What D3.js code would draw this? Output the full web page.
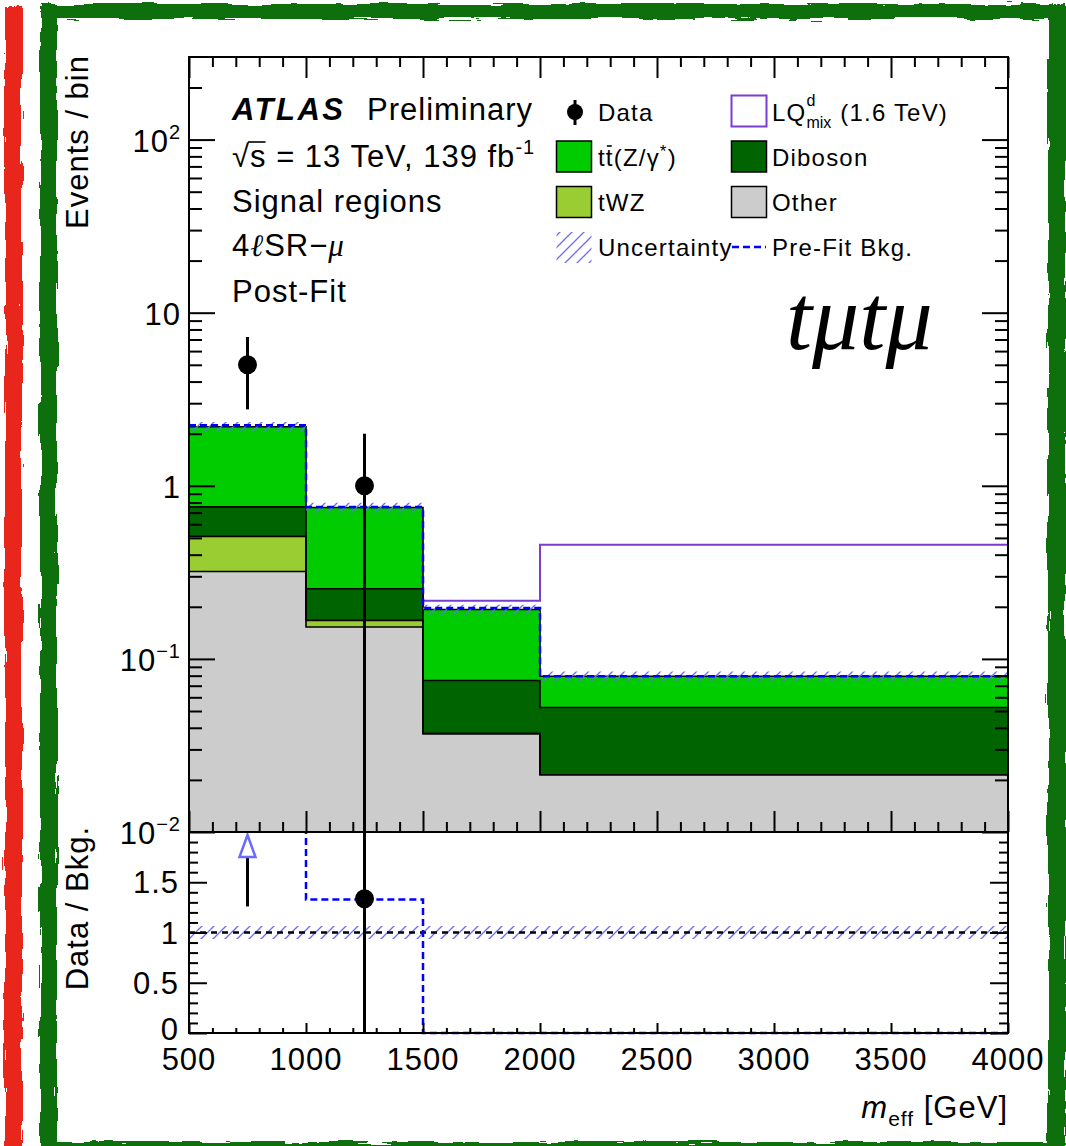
<!DOCTYPE html>
<html>
<head>
<meta charset="utf-8">
<script src="https://cdn.jsdelivr.net/npm/d3@7"></script>
<style>
  html, body { margin: 0; padding: 0; background: #fff; }
  svg { display: block; }
  text { font-family: "Liberation Sans", Arial, Helvetica, sans-serif; fill: #000; }
</style>
</head>
<body>
<svg id="chart" width="1066" height="1146"></svg>
<script>
// ---- binning (m_eff, GeV) ----
const binEdges = [500, 1000, 1500, 2000, 4000];

// ---- post-fit background yields per bin, stacked bottom -> top ----
const otherYields   = [0.32, 0.153, 0.037, 0.0214];
const twzYields     = [0.19, 0.014, 0, 0];
const dibosonYields = [0.245, 0.087, 0.038, 0.031];
const ttzYields     = [1.44, 0.495, 0.118, 0.027];

// ---- pre-fit total background, signal, data ----
const prefitTotal  = [2.24, 0.753, 0.197, 0.0795];
const signalYields = [null, null, 0.217, 0.456];
const dataCounts   = [5, 1, 0, 0];
const bkgRelUnc    = 0.065;

// ---- axis ticks and labels ----
const xTickValues   = [500, 1000, 1500, 2000, 2500, 3000, 3500, 4000];
const xTickLabels   = ["500", "1000", "1500", "2000", "2500", "3000", "3500", "4000"];
const yMainTicks    = [0.01, 0.1, 1, 10, 100];
const yMainBase     = ["10", "10", "1", "10", "10"];
const yMainExp      = ["\u22122", "\u22121", "", "", "2"];
const yRatioTicks   = [0, 0.5, 1, 1.5];
const yRatioLabels  = ["0", "0.5", "1", "1.5"];

// ---- colours ----
const colOther = "#cccccc", colTwz = "#9acd32", colDiboson = "#006400", colTtz = "#00cc00";
const colSignal = "#7a3dd0", colPrefit = "#0000ff", colHatch = "#6a6aff";

// ---- layout ----
const L = 189, R = 1008, T = 57, MB = 832, RB = 1033;

const svg = d3.select("#chart");
const defs = svg.append("defs");

const x  = d3.scaleLinear().domain([500, 4000]).range([L, R]);
const y  = d3.scaleLog().domain([0.01, 300]).range([MB, T]);
const yr = d3.scaleLinear().domain([0, 2]).range([RB, MB]);

// hatch pattern for the uncertainty band
const pat = defs.append("pattern").attr("id", "hatch")
  .attr("patternUnits", "userSpaceOnUse").attr("width", 12).attr("height", 12);
pat.append("path").attr("d", "M-3,3 L3,-3 M0,12 L12,0 M9,15 L15,9")
  .attr("stroke", colHatch).attr("stroke-width", 1.3).attr("fill", "none");

defs.append("clipPath").attr("id", "clipMain").append("rect")
  .attr("x", L).attr("y", T).attr("width", R - L).attr("height", MB - T);
defs.append("clipPath").attr("id", "clipRatio").append("rect")
  .attr("x", L - 2).attr("y", MB).attr("width", R - L + 4).attr("height", RB - MB + 3);

// rough marker-stroke look for the page border
function roughFilter(id, freq, seed) {
  const f = defs.append("filter").attr("id", id)
    .attr("filterUnits", "userSpaceOnUse")
    .attr("x", -20).attr("y", -20).attr("width", 1110).attr("height", 1190);
  f.append("feTurbulence").attr("type", "fractalNoise").attr("baseFrequency", freq)
    .attr("numOctaves", 3).attr("seed", seed).attr("result", "n1");
  f.append("feDisplacementMap").attr("in", "SourceGraphic").attr("in2", "n1")
    .attr("scale", 8).attr("xChannelSelector", "R").attr("yChannelSelector", "G").attr("result", "d");
  f.append("feTurbulence").attr("type", "fractalNoise").attr("baseFrequency", freq)
    .attr("numOctaves", 2).attr("seed", seed + 11).attr("result", "n2");
  const ct = f.append("feComponentTransfer").attr("in", "n2").attr("result", "m");
  ct.append("feFuncA").attr("type", "discrete").attr("tableValues", "0 1 1 1 1 1 1 1");
  f.append("feComposite").attr("in", "d").attr("in2", "m").attr("operator", "in");
}
roughFilter("roughV", "0.3 0.025", 3);
roughFilter("roughH", "0.025 0.3", 5);

// ---- text helper ----
function label(parent, px, py, parts, o = {}) {
  const t = parent.append("text").attr("x", px).attr("y", py)
    .attr("text-anchor", o.anchor || "start")
    .style("font-size", (o.size || 31) + "px")
    .style("letter-spacing", (o.ls ?? 1) + "px");
  if (o.transform) t.attr("transform", o.transform);
  if (o.style) t.style("font-style", o.style);
  if (o.weight) t.style("font-weight", o.weight);
  if (o.family) t.style("font-family", o.family);
  (typeof parts === "string" ? [{ t: parts }] : parts).forEach(p => {
    const s = t.append("tspan").text(p.t);
    if (p.size) s.style("font-size", p.size + "px");
    if (p.dy) s.attr("dy", p.dy);
    if (p.style) s.style("font-style", p.style);
    if (p.weight) s.style("font-weight", p.weight);
    if (p.family) s.style("font-family", p.family);
  });
  return t;
}

// ---- page border ----
const border = svg.append("g");
border.append("rect").attr("x", 5).attr("y", 6).attr("width", 17).attr("height", 1160)
  .attr("fill", "#e8281c").attr("filter", "url(#roughV)");
border.append("rect").attr("x", 40).attr("y", 4).attr("width", 17).attr("height", 1160)
  .attr("fill", "#0b6f0b").attr("filter", "url(#roughV)");
border.append("rect").attr("x", 1048).attr("y", 4).attr("width", 18).attr("height", 1160)
  .attr("fill", "#0b6f0b").attr("filter", "url(#roughV)");
border.append("rect").attr("x", 41).attr("y", 4).attr("width", 1025).attr("height", 15)
  .attr("fill", "#0b6f0b").attr("filter", "url(#roughH)");
border.append("rect").attr("x", 41).attr("y", 1142).attr("width", 1025).attr("height", 15)
  .attr("fill", "#0b6f0b").attr("filter", "url(#roughH)");

// ---- main panel ----
const main = svg.append("g").attr("clip-path", "url(#clipMain)");
const nBins = binEdges.length - 1;
const bins = d3.range(nBins);

// signal histogram (drawn underneath the stack)
const sigPts = bins.filter(i => signalYields[i] != null);
let sigPath = "";
sigPts.forEach((i, k) => {
  sigPath += (k === 0 ? `M${x(binEdges[i])},${y(signalYields[i])}` : `V${y(signalYields[i])}`) + `H${x(binEdges[i + 1])}`;
});
main.append("path").attr("d", sigPath).attr("fill", "none")
  .attr("stroke", colSignal).attr("stroke-width", 2);

// stacked backgrounds
const stackDefs = [
  { vals: otherYields,   color: colOther },
  { vals: twzYields,     color: colTwz },
  { vals: dibosonYields, color: colDiboson },
  { vals: ttzYields,     color: colTtz }
];
const cum = bins.map(() => 0);
const levels = [];
stackDefs.forEach(s => {
  const lo = cum.slice();
  bins.forEach(i => { cum[i] += s.vals[i]; });
  const hi = cum.slice();
  levels.push(hi);
  bins.forEach(i => {
    if (s.vals[i] <= 0) return;
    const yTop = y(hi[i]);
    const yBot = lo[i] > 0 ? y(lo[i]) : MB + 2;
    main.append("rect").attr("x", x(binEdges[i])).attr("width", x(binEdges[i + 1]) - x(binEdges[i]))
      .attr("y", yTop).attr("height", yBot - yTop).attr("fill", s.color);
  });
});
const total = cum.slice();

// outlines of every cumulative level
function stepPath(vals, scale) {
  let d = `M${x(binEdges[0])},${scale(vals[0])}`;
  bins.forEach(i => { d += `V${scale(vals[i])}H${x(binEdges[i + 1])}`; });
  return d;
}
levels.forEach(lv => {
  main.append("path").attr("d", stepPath(lv, y)).attr("fill", "none")
    .attr("stroke", "#000").attr("stroke-width", 1.6);
});

// uncertainty band
bins.forEach(i => {
  const y1 = y(total[i] * (1 + bkgRelUnc)), y0 = y(total[i] * (1 - bkgRelUnc));
  main.append("rect").attr("x", x(binEdges[i])).attr("width", x(binEdges[i + 1]) - x(binEdges[i]))
    .attr("y", y1).attr("height", y0 - y1).attr("fill", "url(#hatch)");
});

// ---- ratio panel content (band + reference line) ----
const ratio = svg.append("g").attr("clip-path", "url(#clipRatio)");
ratio.append("rect").attr("x", L).attr("width", R - L)
  .attr("y", yr(1 + bkgRelUnc)).attr("height", yr(1 - bkgRelUnc) - yr(1 + bkgRelUnc))
  .attr("fill", "url(#hatch)");

// ---- frames and ticks ----
const axes = svg.append("g");
function tickAxis(axis, tx, ty) {
  axes.append("g").attr("transform", `translate(${tx},${ty})`).call(axis)
    .call(g => g.select(".domain").remove())
    .call(g => g.selectAll(".tick line").attr("stroke", "#000").attr("stroke-width", 2));
}
const yMinor = [];
[-2, -1, 0, 1, 2].forEach(k => d3.range(2, 10).forEach(m => {
  const v = m * Math.pow(10, k); if (v < 300) yMinor.push(v);
}));
const xMinor = d3.range(600, 4000, 100).filter(v => v % 500 !== 0);
const rMinor = d3.range(1, 20).map(v => v / 10).filter(v => Math.abs(v * 2 - Math.round(v * 2)) > 1e-6);

tickAxis(d3.axisLeft(y).tickValues(yMainTicks).tickSize(-26).tickFormat(""), L, 0);
tickAxis(d3.axisLeft(y).tickValues(yMinor).tickSize(-13).tickFormat(""), L, 0);
tickAxis(d3.axisRight(y).tickValues(yMainTicks).tickSize(-26).tickFormat(""), R, 0);
tickAxis(d3.axisRight(y).tickValues(yMinor).tickSize(-13).tickFormat(""), R, 0);
tickAxis(d3.axisBottom(x).tickValues(xTickValues).tickSize(-21).tickFormat(""), 0, MB);
tickAxis(d3.axisBottom(x).tickValues(xMinor).tickSize(-10).tickFormat(""), 0, MB);
tickAxis(d3.axisTop(x).tickValues(xTickValues).tickSize(-21).tickFormat(""), 0, T);
tickAxis(d3.axisTop(x).tickValues(xMinor).tickSize(-10).tickFormat(""), 0, T);

tickAxis(d3.axisLeft(yr).tickValues(yRatioTicks).tickSize(-18).tickFormat(""), L, 0);
tickAxis(d3.axisLeft(yr).tickValues(rMinor).tickSize(-9).tickFormat(""), L, 0);
tickAxis(d3.axisRight(yr).tickValues(yRatioTicks).tickSize(-18).tickFormat(""), R, 0);
tickAxis(d3.axisRight(yr).tickValues(rMinor).tickSize(-9).tickFormat(""), R, 0);
tickAxis(d3.axisBottom(x).tickValues(xTickValues).tickSize(-10).tickFormat(""), 0, RB);
tickAxis(d3.axisBottom(x).tickValues(xMinor).tickSize(-5).tickFormat(""), 0, RB);

axes.append("rect").attr("x", L).attr("y", T).attr("width", R - L).attr("height", MB - T)
  .attr("fill", "none").attr("stroke", "#000").attr("stroke-width", 2);
axes.append("rect").attr("x", L).attr("y", MB).attr("width", R - L).attr("height", RB - MB)
  .attr("fill", "none").attr("stroke", "#000").attr("stroke-width", 2);

// ---- pre-fit curves ----
main.append("path").attr("d", stepPath(prefitTotal, y)).attr("fill", "none")
  .attr("stroke", colPrefit).attr("stroke-width", 2.5).attr("stroke-dasharray", "7,4");

ratio.append("line").attr("x1", L).attr("x2", R).attr("y1", yr(1)).attr("y2", yr(1))
  .attr("stroke", "#000").attr("stroke-width", 2.5).attr("stroke-dasharray", "6,5");
const prefitRatio = bins.map(i => dataCounts[i] / prefitTotal[i]);
ratio.append("path").attr("d", stepPath(prefitRatio.map(v => Math.min(v, 2.2)), yr)).attr("fill", "none")
  .attr("stroke", colPrefit).attr("stroke-width", 2.5).attr("stroke-dasharray", "7,4");

// ---- data points ----
bins.forEach(i => {
  const n = dataCounts[i];
  if (n <= 0) return;
  const cx = x((binEdges[i] + binEdges[i + 1]) / 2);
  const e = Math.sqrt(n);
  main.append("line").attr("x1", cx).attr("x2", cx)
    .attr("y1", y(n + e)).attr("y2", y(Math.max(n - e, 1e-4)))
    .attr("stroke", "#000").attr("stroke-width", 3);
  main.append("circle").attr("cx", cx).attr("cy", y(n)).attr("r", 9.5).attr("fill", "#000");

  const r = n / total[i], re = e / total[i];
  if (r > 2) {
    const top = yr(2) + 3, base = top + 22;
    ratio.append("line").attr("x1", cx).attr("x2", cx).attr("y1", base).attr("y2", yr(r - re))
      .attr("stroke", "#000").attr("stroke-width", 3);
    ratio.append("path").attr("d", `M${cx},${top} L${cx - 8},${base} L${cx + 8},${base} Z`)
      .attr("fill", "#fff").attr("stroke", colHatch).attr("stroke-width", 2.5);
  } else {
    ratio.append("line").attr("x1", cx).attr("x2", cx)
      .attr("y1", yr(Math.min(r + re, 2.2))).attr("y2", yr(Math.max(r - re, -0.1)))
      .attr("stroke", "#000").attr("stroke-width", 3);
    ratio.append("circle").attr("cx", cx).attr("cy", yr(r)).attr("r", 9.5).attr("fill", "#000");
  }
});

// ---- tick labels ----
const labels = svg.append("g");
yMainTicks.forEach((v, k) => {
  const parts = [{ t: yMainBase[k] }];
  if (yMainExp[k]) parts.push({ t: yMainExp[k], size: 20, dy: -13 });
  label(labels, 181, y(v) + 12, parts, { anchor: "end" });
});
yRatioTicks.forEach((v, k) => label(labels, 179, yr(v) + (v === 0 ? 7 : 11), yRatioLabels[k], { anchor: "end" }));
xTickValues.forEach((v, k) => label(labels, x(v), 1070, xTickLabels[k], { anchor: "middle" }));

// axis titles
label(labels, 0, 0, "Events / bin", { anchor: "end", transform: "translate(88,55) rotate(-90)" });
label(labels, 0, 0, "Data / Bkg.", { anchor: "end", transform: "translate(88,826) rotate(-90)" });
label(labels, R, 1118, [
  { t: "m", style: "italic" },
  { t: "eff", size: 21, dy: 8 },
  { t: " [GeV]", dy: -8 }
], { anchor: "end" });

// ---- annotation block ----
label(labels, 232, 120, "ATLAS", { weight: "bold", style: "italic", ls: 2.5 });
label(labels, 367, 120, "Preliminary");
const rs = label(labels, 232, 167, [{ t: "\u221As = 13 TeV, 139 fb" }, { t: "-1", size: 20, dy: -13 }]);
{
  const e0 = rs.node().getExtentOfChar(0), e1 = rs.node().getExtentOfChar(1);
  labels.append("line").attr("x1", e0.x + e0.width - 2).attr("x2", e1.x + e1.width - 1)
    .attr("y1", 167 - 25).attr("y2", 167 - 25).attr("stroke", "#000").attr("stroke-width", 1.6);
}
label(labels, 232, 212, "Signal regions");
label(labels, 232, 256, [
  { t: "4" },
  { t: "\u2113", family: "Liberation Serif", style: "italic" },
  { t: "SR\u2212" },
  { t: "\u03BC", family: "Liberation Serif", style: "italic" }
]);
label(labels, 232, 302, "Post-Fit");
label(labels, 786, 349, "t\u03BCt\u03BC", { size: 94, ls: 0, family: "Liberation Serif", style: "italic" });

// ---- legend ----
const leg = svg.append("g");
const LS = 24;
function legBox(bx, by, fill, stroke) {
  leg.append("rect").attr("x", bx).attr("y", by).attr("width", 35).attr("height", 31)
    .attr("fill", fill).attr("stroke", stroke || "#000").attr("stroke-width", stroke ? 2 : 1.5);
}
// column 1
leg.append("line").attr("x1", 575).attr("x2", 575).attr("y1", 100).attr("y2", 125)
  .attr("stroke", "#000").attr("stroke-width", 3);
leg.append("circle").attr("cx", 575).attr("cy", 112).attr("r", 8).attr("fill", "#000");
label(leg, 598, 121, "Data", { size: LS, ls: 1.2 });

legBox(556.5, 141, colTtz);
const ttl = label(leg, 598, 166, [{ t: "tt(Z/\u03B3" }, { t: "*", size: 17, dy: -9 }, { t: ")", dy: 9 }], { size: LS, ls: 1.2 });
{
  const e1 = ttl.node().getExtentOfChar(1);
  leg.append("line").attr("x1", e1.x + 1).attr("x2", e1.x + e1.width - 2)
    .attr("y1", 166 - 20).attr("y2", 166 - 20).attr("stroke", "#000").attr("stroke-width", 1.6);
}
legBox(556.5, 186.5, colTwz);
label(leg, 598, 211, "tWZ", { size: LS, ls: 1.2 });

leg.append("rect").attr("x", 556.5).attr("y", 232).attr("width", 35).attr("height", 31).attr("fill", "url(#hatch)");
label(leg, 598, 256, "Uncertainty", { size: LS, ls: 1.2 });

// column 2
legBox(731.5, 95.5, "#fff", colSignal);
const lq = label(leg, 772, 121, "LQ", { size: LS, ls: 1.2 });
const lqEnd = 772 + lq.node().getComputedTextLength();
label(leg, lqEnd, 106, "d", { size: 16, ls: 0 });
const mix = label(leg, lqEnd, 128, "mix", { size: 16, ls: 0 });
label(leg, lqEnd + mix.node().getComputedTextLength() + 9, 121, "(1.6 TeV)", { size: LS, ls: 1.2 });

legBox(731.5, 141, colDiboson);
label(leg, 772, 166, "Diboson", { size: LS, ls: 1.2 });
legBox(731.5, 186.5, colOther);
label(leg, 772, 211, "Other", { size: LS, ls: 1.2 });
leg.append("line").attr("x1", 732).attr("x2", 766).attr("y1", 247).attr("y2", 247)
  .attr("stroke", colPrefit).attr("stroke-width", 2.5).attr("stroke-dasharray", "7,4");
label(leg, 772, 256, "Pre-Fit Bkg.", { size: LS, ls: 1.2 });
</script>
</body>
</html>
